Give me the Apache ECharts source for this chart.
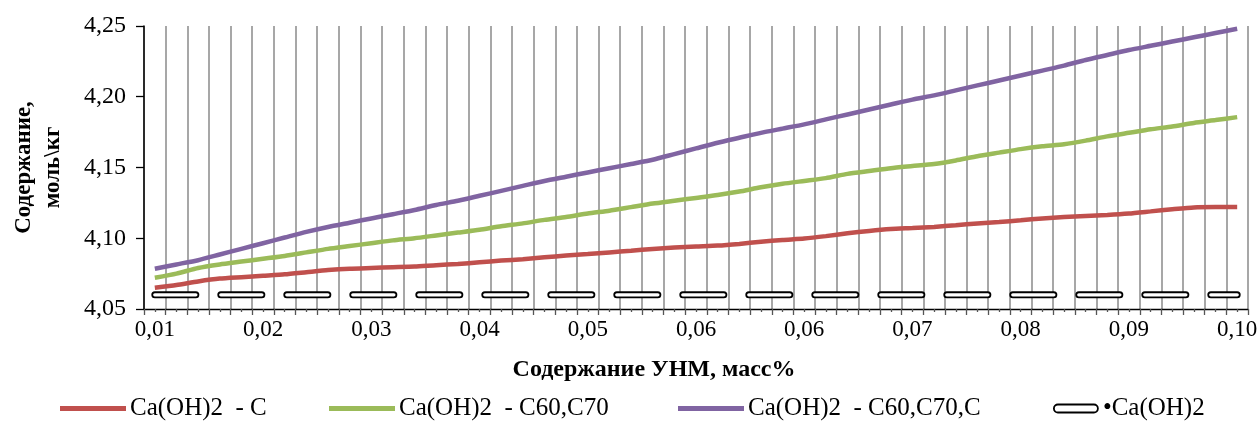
<!DOCTYPE html>
<html>
<head>
<meta charset="utf-8">
<script src="https://cdn.jsdelivr.net/npm/echarts@6/dist/echarts.min.js"></script>
<style>
html,body{margin:0;padding:0;background:#fff;}
#chart{width:1258px;height:427px;}
</style>
</head>
<body>
<div id="chart"></div>
<script>
// x categories (УНМ content, mass %)
const categories = ['0.0100','0.0118','0.0136','0.0154','0.0172','0.0190','0.0208','0.0226','0.0244','0.0262',
  '0.0280','0.0298','0.0316','0.0334','0.0352','0.0370','0.0388','0.0406','0.0424','0.0442',
  '0.0460','0.0478','0.0496','0.0514','0.0532','0.0550','0.0568','0.0586','0.0604','0.0622',
  '0.0640','0.0658','0.0676','0.0694','0.0712','0.0730','0.0748','0.0766','0.0784','0.0802',
  '0.0820','0.0838','0.0856','0.0874','0.0892','0.0910','0.0928','0.0946','0.0964','0.0982','0.1000'];
// tick labels shown every 5th category
const tickLabels = ['0,01','0,02','0,03','0,04','0,05','0,06','0,06','0,07','0,08','0,09','0,10'];

const seriesNames = ['Ca(OH)2  - C', 'Ca(OH)2  - C60,C70', 'Ca(OH)2  - C60,C70,C', '•Ca(OH)2'];

const valuesC = [4.0650,4.0670,4.0695,4.0715,4.0725,4.0735,4.0745,4.0760,4.0775,4.0785,
  4.0790,4.0795,4.0800,4.0810,4.0818,4.0830,4.0842,4.0852,4.0865,4.0878,
  4.0888,4.0900,4.0912,4.0924,4.0935,4.0942,4.0948,4.0960,4.0975,4.0988,
  4.0998,4.1015,4.1035,4.1052,4.1065,4.1072,4.1080,4.1092,4.1105,4.1115,
  4.1127,4.1140,4.1150,4.1158,4.1165,4.1175,4.1190,4.1205,4.1218,4.1220,4.1220];

const valuesC60C70 = [4.0721,4.0750,4.0790,4.0815,4.0835,4.0855,4.0875,4.0900,4.0925,4.0945,
  4.0965,4.0985,4.1000,4.1020,4.1040,4.1060,4.1085,4.1105,4.1130,4.1150,
  4.1175,4.1195,4.1220,4.1245,4.1265,4.1285,4.1305,4.1330,4.1360,4.1385,
  4.1405,4.1425,4.1455,4.1475,4.1495,4.1510,4.1525,4.1550,4.1580,4.1605,
  4.1630,4.1650,4.1665,4.1690,4.1720,4.1745,4.1770,4.1790,4.1815,4.1835,4.1856];

const valuesC60C70C = [4.0785,4.0815,4.0845,4.0885,4.0925,4.0965,4.1005,4.1045,4.1080,4.1110,
  4.1140,4.1170,4.1200,4.1235,4.1265,4.1300,4.1335,4.1370,4.1405,4.1435,
  4.1465,4.1495,4.1525,4.1555,4.1595,4.1635,4.1675,4.1710,4.1745,4.1775,
  4.1805,4.1840,4.1875,4.1910,4.1945,4.1980,4.2010,4.2045,4.2080,4.2115,
  4.2150,4.2185,4.2220,4.2260,4.2295,4.2330,4.2360,4.2390,4.2420,4.2450,4.2480];

const valuesCaOH2 = [4.06,4.06,4.06,4.06,4.06,4.06,4.06,4.06,4.06,4.06,
  4.06,4.06,4.06,4.06,4.06,4.06,4.06,4.06,4.06,4.06,
  4.06,4.06,4.06,4.06,4.06,4.06,4.06,4.06,4.06,4.06,
  4.06,4.06,4.06,4.06,4.06,4.06,4.06,4.06,4.06,4.06,
  4.06,4.06,4.06,4.06,4.06,4.06,4.06,4.06,4.06,4.06,4.06];

const FONT = "'Liberation Serif', 'Times New Roman', serif";
const colors = ['#C0504D', '#9BBB59', '#8064A2'];

const chart = echarts.init(document.getElementById('chart'), null, {renderer: 'canvas'});

function lineLegend(name, color, left) {
  return {
    left: left, top: 396, orient: 'horizontal', padding: 0,
    itemWidth: 66, itemHeight: 5, itemGap: 4,
    textStyle: {fontFamily: FONT, fontSize: 25, color: '#000', padding: [0, 0, 0, -1]},
    data: [{name: name, icon: 'rect', itemStyle: {color: color}}]
  };
}

const option = {
  animation: false,
  backgroundColor: '#fff',
  grid: {left: 144, right: 10, top: 26, bottom: 118, containLabel: false, outerBoundsMode: 'none'},
  legend: [
    lineLegend(seriesNames[0], colors[0], 60),
    lineLegend(seriesNames[1], colors[1], 329),
    lineLegend(seriesNames[2], colors[2], 678),
    {
      left: 1053, top: 396, padding: 0,
      itemWidth: 44, itemHeight: 8, itemGap: 6,
      textStyle: {fontFamily: FONT, fontSize: 25, color: '#000'},
      data: [{name: seriesNames[3], icon: 'path://M4,0 L40,0 A4,4 0 0 1 40,8 L4,8 A4,4 0 0 1 4,0 Z',
        itemStyle: {color: '#fff', borderColor: '#000', borderWidth: 1.8}}]
    }
  ],
  xAxis: [
    {
      type: 'category', data: categories, boundaryGap: true, position: 'bottom',
      name: 'Содержание УНМ, масс%', nameLocation: 'middle', nameGap: 49,
      nameTextStyle: {fontFamily: FONT, fontSize: 24, fontWeight: 'bold', color: '#000', padding: [0, 84, 0, 0]},
      axisLine: {show: true, lineStyle: {color: '#000', width: 1.3}},
      axisTick: {show: true, interval: 0, length: 6, lineStyle: {color: '#555', width: 1.3}},
      axisLabel: {
        interval: function (idx) { return idx % 5 === 0; },
        formatter: function (v, idx) { return tickLabels[Math.round(idx / 5)]; },
        fontFamily: FONT, fontSize: 23, color: '#000', margin: 9
      },
      splitLine: {show: true, interval: 0, lineStyle: {color: '#8a8a8a', width: 1.5}}
    },
    {
      type: 'category', data: categories, boundaryGap: true, position: 'bottom',
      axisLine: {show: false},
      axisTick: {show: true, interval: 0, alignWithLabel: true, length: 3, lineStyle: {color: '#555', width: 1.3}},
      axisLabel: {show: false},
      splitLine: {show: false}
    }
  ],
  yAxis: {
    type: 'value', min: 4.05, max: 4.25, interval: 0.05,
    name: 'Содержание,\nмоль\\кг', nameLocation: 'middle', nameGap: 76, nameRotate: 90,
    nameTextStyle: {fontFamily: FONT, fontSize: 23, fontWeight: 'bold', color: '#000', lineHeight: 29},
    axisLine: {show: true, lineStyle: {color: '#000', width: 1.5}},
    axisTick: {show: true, length: 8, lineStyle: {color: '#000', width: 1.3}},
    axisLabel: {
      fontFamily: FONT, fontSize: 24, color: '#000', margin: 18,
      formatter: function (v) { return v.toFixed(2).replace('.', ','); }
    },
    splitLine: {show: false}
  },
  series: [
    {name: seriesNames[0], type: 'line', data: valuesC, showSymbol: false, smooth: 0.2,
      lineStyle: {color: colors[0], width: 4.5}, itemStyle: {color: colors[0]}, z: 3},
    {name: seriesNames[1], type: 'line', data: valuesC60C70, showSymbol: false, smooth: 0.2,
      lineStyle: {color: colors[1], width: 4.5}, itemStyle: {color: colors[1]}, z: 3},
    {name: seriesNames[2], type: 'line', data: valuesC60C70C, showSymbol: false, smooth: 0.2,
      lineStyle: {color: colors[2], width: 4.5}, itemStyle: {color: colors[2]}, z: 3},
    {name: seriesNames[3], type: 'line', data: valuesCaOH2, showSymbol: false,
      lineStyle: {color: '#000', width: 7, type: [41, 25], cap: 'round'}, itemStyle: {color: '#000'}, z: 3},
    {name: 'inner', type: 'line', data: valuesCaOH2, showSymbol: false, silent: true,
      lineStyle: {color: '#fff', width: 3.4, type: [41, 25], cap: 'round'}, itemStyle: {color: '#fff'}, z: 4}
  ]
};
chart.setOption(option);
</script>
</body>
</html>
